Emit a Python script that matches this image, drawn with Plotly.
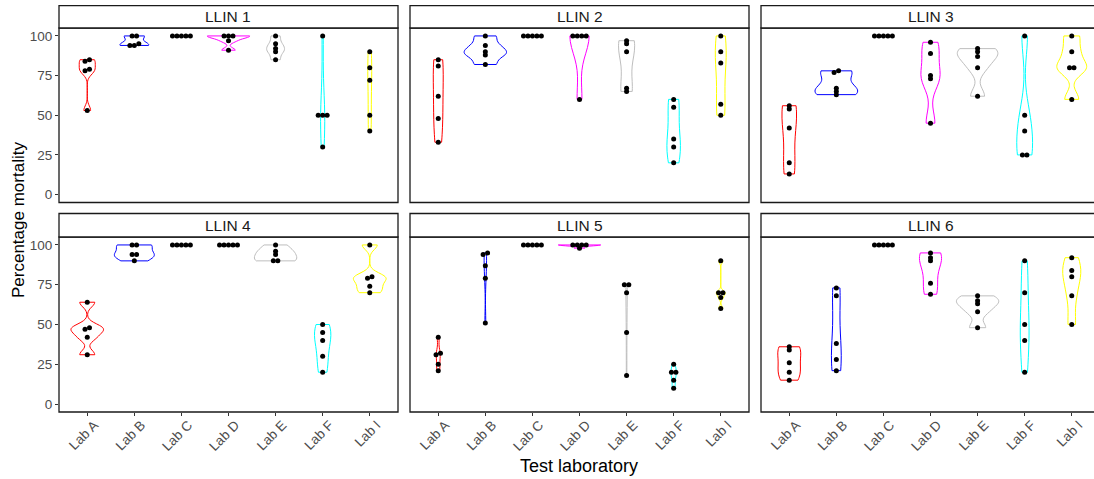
import numpy as np
import plotly.graph_objects as go

# ---------------- data ----------------
labs = ["Lab A", "Lab B", "Lab C", "Lab D", "Lab E", "Lab F", "Lab I"]
lab_colors = ["red", "blue", "green", "magenta", "#BEBEBE", "cyan", "yellow"]
panels = ["LLIN 1", "LLIN 2", "LLIN 3", "LLIN 4", "LLIN 5", "LLIN 6"]
y_ticks = [0, 25, 50, 75, 100]

# percentage mortality per lab (order of `labs`), five replicates each
llin1 = [[85, 84, 79, 78, 53], [100, 100, 95, 94, 94], [100, 100, 100, 100, 100],
         [100, 100, 100, 97, 91], [100, 95, 92, 90, 85], [100, 50, 50, 50, 30],
         [90, 80, 72, 50, 40]]
llin2 = [[85, 81, 62, 48, 33], [100, 94, 90, 88, 82], [100, 100, 100, 100, 100],
         [100, 100, 100, 100, 60], [97, 95, 90, 67, 65], [60, 55, 35, 30, 20],
         [100, 90, 83, 57, 50]]
llin3 = [[56, 54, 42, 20, 13], [78, 77, 67, 65, 63], [100, 100, 100, 100, 100],
         [96, 89, 75, 73, 45], [92, 90, 87, 80, 62], [100, 50, 40, 25, 25],
         [100, 90, 80, 80, 60]]
llin4 = [[64, 48, 47, 42, 31], [100, 100, 94, 94, 90], [100, 100, 100, 100, 100],
         [100, 100, 100, 100, 100], [100, 96, 94, 90, 90], [50, 45, 40, 30, 20],
         [100, 80, 79, 74, 70]]
llin5 = [[42, 32, 31, 25, 21], [95, 94, 87, 79, 51], [100, 100, 100, 100, 100],
         [100, 100, 100, 100, 98], [75, 75, 70, 45, 18], [25, 20, 20, 15, 10],
         [90, 70, 70, 67, 60]]
llin6 = [[36, 34, 26, 20, 15], [73, 68, 38, 28, 21], [100, 100, 100, 100, 100],
         [95, 92, 90, 76, 69], [68, 65, 63, 58, 48], [90, 70, 50, 40, 20],
         [92, 84, 80, 68, 50]]
all_data = [llin1, llin2, llin3, llin4, llin5, llin6]

# ---------------- helpers ----------------
W, H = 1094, 479
FONT = "Liberation Sans, Arial, sans-serif"


def bw_nrd0(x):
    x = np.asarray(x, float)
    hi = x.std(ddof=1)
    q75, q25 = np.percentile(x, [75, 25])
    lo = min(hi, (q75 - q25) / 1.34)
    if lo == 0:
        lo = hi if hi > 0 else (abs(x[0]) if x[0] != 0 else 1.0)
    return 0.9 * lo * len(x) ** -0.2


def stack_offsets(vals, step=0.095, tol=1.5):
    vals = np.asarray(vals, float)
    order = np.argsort(vals)
    offs = np.zeros(len(vals))
    groups, cur = [], [order[0]]
    for a, b in zip(order[:-1], order[1:]):
        if vals[b] - vals[a] <= tol:
            cur.append(b)
        else:
            groups.append(cur)
            cur = [b]
    groups.append(cur)
    for g in groups:
        n = len(g)
        for j, idx in enumerate(g):
            offs[idx] = (j - (n - 1) / 2) * step
    return offs


# panel geometry in pixels
col_x = [(59, 398), (410, 749), (761, 1100)]
row_y = [(28, 202.5), (237, 412)]
strip_h = [22.3, 23.5]
px_per_unit = 339 / 7.2

fig = go.Figure()
layout = dict(
    width=W, height=H, margin=dict(l=0, r=0, t=0, b=0),
    paper_bgcolor="white", plot_bgcolor="white", showlegend=False,
    violinmode="overlay", violingap=0.1, violingroupgap=0,
    font=dict(family=FONT, color="#4D4D4D"),
)
shapes, annotations = [], []

for k, (pname, pdata) in enumerate(zip(panels, all_data)):
    r, c = divmod(k, 3)
    n = k + 1
    xa = "x" if n == 1 else f"x{n}"
    ya = "y" if n == 1 else f"y{n}"
    xl, xr = col_x[c]
    xr_vis = min(xr, W)
    yt, yb = row_y[r]
    x_max = 0.4 + (xr_vis - xl) / px_per_unit

    layout["xaxis" if n == 1 else f"xaxis{n}"] = dict(
        domain=[xl / W, xr_vis / W], range=[0.4, x_max], anchor=ya,
        tickvals=list(range(1, len(labs) + 1)), ticktext=labs,
        showticklabels=(r == 1), ticks="outside" if r == 1 else "",
        ticklen=3, tickwidth=1, tickcolor="#333333", tickangle=-45,
        ticklabelshift=7, ticklabelstandoff=-4,
        tickfont=dict(size=13.5, color="#4D4D4D", family=FONT),
        showgrid=False, zeroline=False, showline=False, fixedrange=True,
    )
    layout["yaxis" if n == 1 else f"yaxis{n}"] = dict(
        domain=[1 - yb / H, 1 - yt / H], range=[-5, 105], anchor=xa,
        tickvals=y_ticks, showticklabels=(c == 0),
        ticks="outside" if c == 0 else "", ticklen=3, tickwidth=1,
        tickcolor="#333333", tickfont=dict(size=13.5, color="#4D4D4D", family=FONT),
        showgrid=False, zeroline=False, showline=False, fixedrange=True,
    )

    # violins
    for i, (lab, vals) in enumerate(zip(labs, pdata)):
        if np.ptp(vals) == 0:
            continue
        fig.add_trace(go.Violin(
            x0=i + 1, y=vals, name=f"{pname} {lab}", orientation="v",
            bandwidth=bw_nrd0(vals), spanmode="hard",
            scalegroup=f"p{n}", scalemode="width",
            line=dict(color=lab_colors[i], width=1),
            fillcolor="rgba(0,0,0,0)", points=False,
            box_visible=False, meanline_visible=False,
            hoverinfo="skip", xaxis=xa, yaxis=ya, showlegend=False,
        ))
    # dots
    xs, ys = [], []
    for i, vals in enumerate(pdata):
        offs = stack_offsets(vals)
        xs.extend(list(i + 1 + offs))
        ys.extend(vals)
    fig.add_trace(go.Scatter(
        x=xs, y=ys, mode="markers", xaxis=xa, yaxis=ya,
        marker=dict(color="black", size=5, line=dict(width=0)),
        hoverinfo="skip", showlegend=False,
    ))

    # panel border
    shapes.append(dict(type="rect", xref="paper", yref="paper",
                       x0=xl / W, x1=xr / W, y0=1 - yb / H, y1=1 - yt / H,
                       line=dict(color="#1A1A1A", width=1.3),
                       fillcolor="rgba(0,0,0,0)", layer="above"))
    # strip
    st = yt - strip_h[r]
    shapes.append(dict(type="rect", xref="paper", yref="paper",
                       x0=xl / W, x1=xr / W, y0=1 - yt / H, y1=1 - st / H,
                       line=dict(color="#1A1A1A", width=1.3),
                       fillcolor="white", layer="above"))
    annotations.append(dict(text=pname, xref="paper", yref="paper",
                            x=(xl + xr) / 2 / W, y=1 - (st + yt) / 2 / H,
                            xanchor="center", yanchor="middle", showarrow=False,
                            font=dict(size=15.5, color="#1A1A1A", family=FONT)))

annotations.append(dict(text="Percentage mortality", xref="paper", yref="paper",
                        x=18 / W, y=1 - 220 / H, textangle=-90,
                        xanchor="center", yanchor="middle", showarrow=False,
                        font=dict(size=17, color="black", family=FONT)))
annotations.append(dict(text="Test laboratory", xref="paper", yref="paper",
                        x=579 / W, y=1 - 466 / H,
                        xanchor="center", yanchor="middle", showarrow=False,
                        font=dict(size=18, color="black", family=FONT)))

layout["shapes"] = shapes
layout["annotations"] = annotations
fig.update_layout(**layout)
fig.write_html("out.html")
